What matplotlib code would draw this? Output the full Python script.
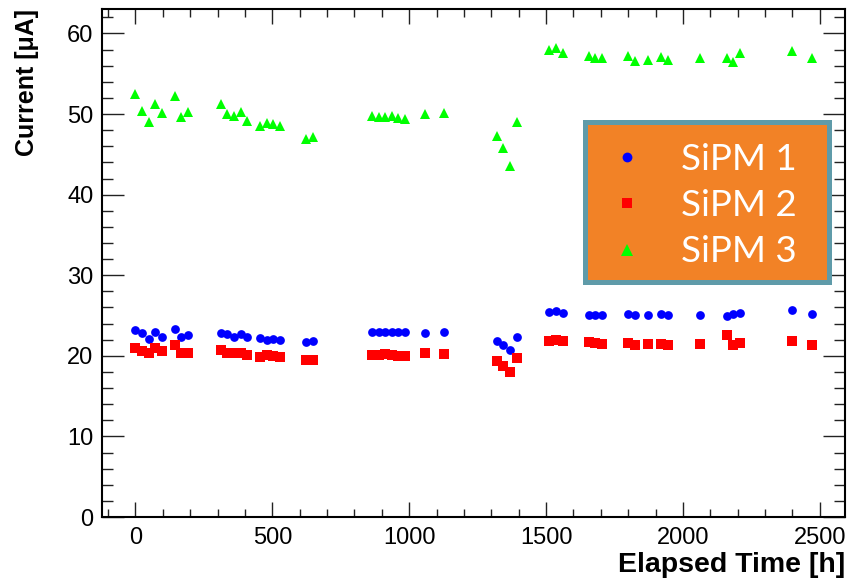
import numpy as np
import matplotlib
matplotlib.use("Agg")
import matplotlib.pyplot as plt
from matplotlib.ticker import MultipleLocator
from matplotlib.patches import Rectangle

# elapsed time in hours (one reading per day)
hours = [0, 24, 48, 72, 96, 144, 168, 192, 312, 336, 360, 384, 408, 456, 480,
         504, 528, 624, 648, 864, 888, 912, 936, 960, 984, 1056, 1128, 1320,
         1344, 1368, 1392, 1512, 1536, 1560, 1656, 1680, 1704, 1800, 1824,
         1872, 1920, 1944, 2064, 2160, 2184, 2208, 2400, 2472]

sipm1 = [23.2, 22.8, 22.1, 22.9, 22.4, 23.3, 22.4, 22.6, 22.8, 22.7, 22.4, 22.7,
         22.3, 22.2, 22.0, 22.1, 22.0, 21.7, 21.8, 22.9, 22.9, 22.9, 22.9, 22.9,
         22.9, 22.8, 22.9, 21.8, 21.4, 20.7, 22.4, 25.5, 25.6, 25.3, 25.1, 25.1,
         25.1, 25.2, 25.1, 25.1, 25.2, 25.1, 25.1, 25.0, 25.2, 25.3, 25.7, 25.2]

sipm2 = [21.0, 20.6, 20.3, 21.0, 20.6, 21.3, 20.4, 20.4, 20.7, 20.4, 20.4, 20.4,
         20.1, 19.9, 20.1, 20.0, 19.9, 19.5, 19.5, 20.1, 20.1, 20.2, 20.1, 20.0,
         20.0, 20.3, 20.2, 19.4, 18.8, 18.0, 19.7, 21.9, 22.0, 21.85, 21.7, 21.6,
         21.5, 21.6, 21.4, 21.5, 21.5, 21.4, 21.5, 22.55, 21.4, 21.65, 21.8, 21.4]

sipm3 = [52.5, 50.4, 49.0, 51.3, 50.1, 52.3, 49.6, 50.3, 51.2, 50.0, 49.7, 50.2,
         49.1, 48.5, 48.9, 48.8, 48.5, 46.9, 47.2, 49.7, 49.6, 49.6, 49.8, 49.5,
         49.4, 50.0, 50.1, 47.3, 45.8, 43.6, 49.0, 57.9, 58.2, 57.6, 57.2, 57.0,
         56.9, 57.2, 56.6, 56.7, 57.1, 56.7, 56.9, 56.9, 56.4, 57.6, 57.8, 56.9]

labels = ["SiPM 1", "SiPM 2", "SiPM 3"]

plt.rcParams['font.family'] = ['Liberation Sans', 'DejaVu Sans']

W, H = 854, 579
fig = plt.figure(figsize=(W / 100, H / 100), dpi=100)
ax = fig.add_axes([0.119, 0.107, 0.871, 0.877])

ax.plot(hours, sipm1, 'o', color='#0000ff', ms=6.3, mew=0, label=labels[0])
ax.plot(hours, sipm2, 's', color='#ff0000', ms=6.6, mew=0, label=labels[1])
ax.plot(hours, sipm3, '^', color='#00ff00', ms=7.2, mew=0, label=labels[2])

ax.set_xlim(-123.5, 2593.5)
ax.set_ylim(0, 63)

ax.xaxis.set_major_locator(MultipleLocator(500))
ax.xaxis.set_minor_locator(MultipleLocator(100))
ax.yaxis.set_major_locator(MultipleLocator(10))
ax.yaxis.set_minor_locator(MultipleLocator(2))

for sp in ax.spines.values():
    sp.set_linewidth(1.5)

ax.tick_params(axis='both', which='both', direction='in', top=True, right=True,
               labelsize=17, color='#222222')
ax.tick_params(axis='x', which='major', length=11, width=1, pad=7)
ax.tick_params(axis='x', which='minor', length=5.5, width=1)
ax.tick_params(axis='y', which='major', length=16, width=1, pad=6)
ax.tick_params(axis='y', which='minor', length=8, width=1)

ax.set_xlabel("Elapsed Time [h]", fontsize=20.5, fontweight='bold')
ax.xaxis.set_label_coords(845 / W, 1 - 572 / H, transform=fig.transFigure)
ax.xaxis.label.set(ha='right', va='baseline')

ax.set_ylabel("Current [\u03bcA]", fontsize=18, fontweight='bold')
ax.yaxis.set_label_coords(27 / W, 1 - 9 / H, transform=fig.transFigure)
ax.yaxis.label.set(ha='right', va='center', rotation_mode='anchor')

# legend box
fig.patches.append(Rectangle((584.5 / W, 1 - 281.5 / H), 244 / W, 160 / H,
                             transform=fig.transFigure, facecolor='#f28226',
                             edgecolor='#5f9ba9', linewidth=3.6, zorder=1))

handles, labs = ax.get_legend_handles_labels()
leg = fig.legend(handles, labs, loc='upper left',
                 bbox_to_anchor=(608.6 / W, 1 - 143 / H),
                 bbox_transform=fig.transFigure, frameon=False,
                 borderpad=0, borderaxespad=0, handlelength=1.0,
                 handletextpad=0.97, labelspacing=0.36, markerscale=1.12,
                 prop={'family': 'Lato', 'weight': 'normal', 'size': 26.5})
for t in leg.get_texts():
    t.set_color('white')

fig.savefig("out.png", dpi=100)
